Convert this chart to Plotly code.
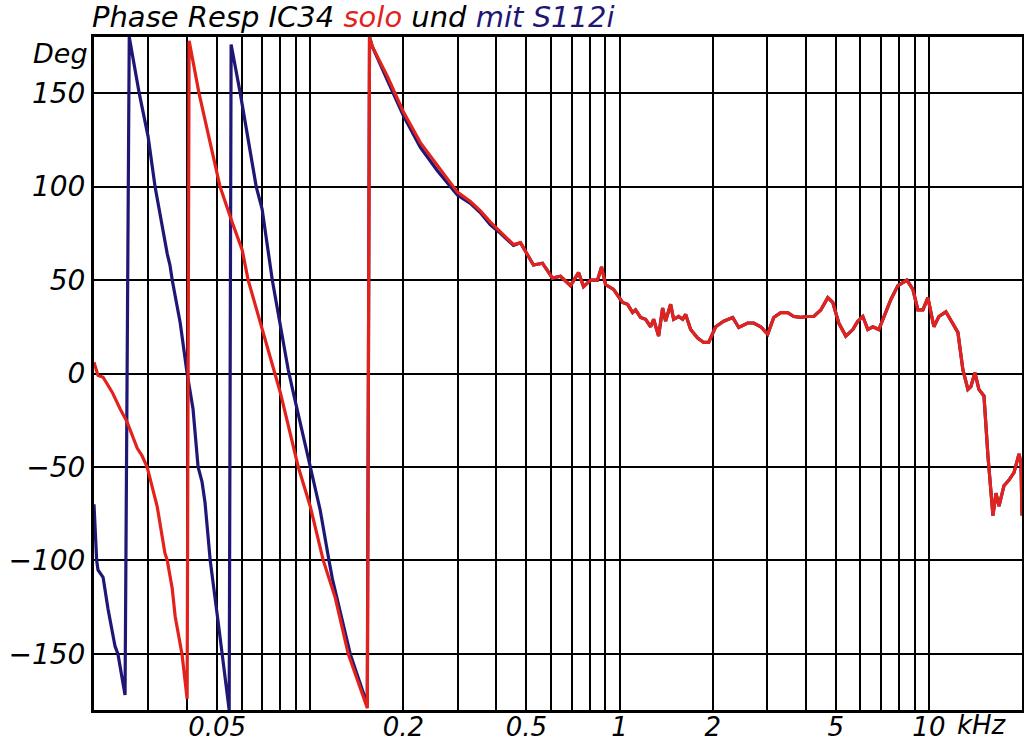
import plotly.graph_objects as go

# ---------------- data (frequency in kHz, phase in degrees) ----------------
red_freq = [0.0200, 0.0206, 0.0214, 0.0229, 0.0243, 0.0256, 0.0276, 0.0286, 0.0297, 0.0308,
            0.0320, 0.0339, 0.0345, 0.0358, 0.0366, 0.0385, 0.0400,
            0.0406, 0.0437, 0.0503, 0.0511, 0.0559, 0.0603, 0.0630, 0.0699, 0.0771, 0.0800,
            0.0915, 0.1000, 0.1102, 0.1205, 0.1327, 0.1530,
            0.1555, 0.1587, 0.1775, 0.200, 0.227, 0.2577, 0.2991, 0.3295, 0.355, 0.3824,
            0.4121, 0.454, 0.4783, 0.5269, 0.5634, 0.6071, 0.6444, 0.6942, 0.7369, 0.7649,
            0.8058, 0.849, 0.8746, 0.901, 0.9564, 1.0228, 1.0616, 1.102, 1.127, 1.1696,
            1.214, 1.260, 1.2886, 1.3376, 1.378, 1.409, 1.4626, 1.4956, 1.5524, 1.5994,
            1.6356, 1.6976, 1.7886, 1.8704, 1.9414, 2.045, 2.171, 2.3216, 2.4278, 2.596,
            2.715, 2.860, 3.013, 3.151, 3.320, 3.497, 3.657, 3.853, 4.060, 4.246, 4.472,
            4.712, 4.890, 5.114, 5.388, 5.676, 5.892, 6.116, 6.348, 6.588, 6.890, 7.152,
            7.536, 7.940, 8.490, 8.878, 9.214, 9.564, 9.926, 10.38, 10.77, 11.35, 11.96,
            12.41, 12.88, 13.37, 13.67, 14.09, 14.51, 15.07, 15.52, 16.11, 16.48, 16.85,
            17.49, 18.15, 18.84, 19.56, 19.85, 20.0]
red_phase = [6, -1, -2, -10, -19, -26, -40, -44, -50, -61,
             -71, -96, -100, -115, -130, -150, -174,
             178, 150, 105, 100, 81, 66, 50, 23.5, 0, -10,
             -50, -71, -100, -120, -150, -179,
             180, 175, 159, 140, 123.5, 111, 97, 92, 87, 81,
             76, 69, 70, 58, 59, 51, 52, 47, 54, 46.5,
             50, 50, 57, 47.6, 45, 38, 37, 32.6, 34, 30,
             29, 25, 29, 20, 35, 28, 37, 29, 30.5, 29,
             31.6, 23.5, 19, 16.6, 16.6, 25, 28, 30, 24.6, 27,
             27, 25, 21, 30, 32.6, 32.6, 30.5, 30, 30.5, 30.5, 34,
             40.6, 38, 27, 20, 23.5, 28, 30.5, 23.5, 25, 23.5, 30.5,
             39.6, 47, 50, 45, 34, 34, 40.6, 25, 30.5, 33, 27,
             22, 2, -8.5, -7, 0.5, -8.5, -12, -44, -76, -64, -71,
             -60, -57, -53, -43, -48, -76]

blue_own_freq = [0.0200, 0.0204, 0.0206, 0.0214, 0.0222, 0.0234, 0.0239, 0.0252,
                 0.0260, 0.0265, 0.0280, 0.0299, 0.0315, 0.0345, 0.0352, 0.0358, 0.0380,
                 0.0400, 0.0418, 0.0434, 0.0447, 0.0457, 0.0475, 0.0504, 0.0519, 0.0531, 0.0547,
                 0.0555, 0.0594, 0.0669, 0.0699, 0.0754, 0.0800, 0.0849, 0.0881, 0.1000,
                 0.1077, 0.1150, 0.1180, 0.1347, 0.1529,
                 0.1555, 0.1587, 0.1775, 0.200, 0.227, 0.2577, 0.2991, 0.3295, 0.355,
                 0.3824, 0.4121, 0.454, 0.4783]
blue_own_phase = [-70, -100, -105, -109, -126, -146, -150, -172,
                  180, 172, 150, 127, 100, 64, 58, 50, 27,
                  0, -19, -50, -58, -69, -100, -133, -150, -160, -180,
                  176, 150, 100, 88, 50, 27, 2, -10, -50,
                  -73, -100, -110, -150, -177,
                  180, 175, 157, 138, 121, 108.5, 95.5, 91, 86,
                  79.5, 75, 68.5, 70]
# above ~0.5 kHz the S112i curve lies under the solo curve
shared_start = red_freq.index(0.5269)
blue_freq = blue_own_freq + red_freq[shared_start:]
blue_phase = blue_own_phase + red_phase[shared_start:]

grid_freqs = [0.02, 0.03, 0.04, 0.05, 0.06, 0.07, 0.08, 0.09,
              0.1, 0.2, 0.3, 0.4, 0.5, 0.6, 0.7, 0.8, 0.9,
              1, 2, 3, 4, 5, 6, 7, 8, 9, 10, 20]
x_labels = {0.05: "0.05", 0.2: "0.2", 0.5: "0.5", 1: "1", 2: "2", 5: "5", 10: "10"}
y_ticks = [-150, -100, -50, 0, 50, 100, 150]
y_labels = ["\u2212150", "\u2212100", "\u221250", "0", "50", "100", "150"]

RED = "#e3221c"
BLUE = "#1f1775"
FONT = "DejaVu Sans"

fig = go.Figure()
fig.add_trace(go.Scatter(x=blue_freq, y=blue_phase, mode="lines",
                         line=dict(color=BLUE, width=3.2), name="mit S112i"))
fig.add_trace(go.Scatter(x=red_freq, y=red_phase, mode="lines",
                         line=dict(color=RED, width=3.2), name="solo"))

L, R, T, B = 94, 2, 37, 34
W, H = 1024, 744
pw, ph = W - L - R, H - T - B

fig.update_layout(
    width=W, height=H,
    margin=dict(l=L, r=R, t=T, b=B, autoexpand=False),
    paper_bgcolor="white", plot_bgcolor="white",
    showlegend=False,
    font=dict(family=FONT, size=27, color="black", style="italic"),
)
fig.update_xaxes(
    type="log", range=[-1.69897, 1.30103],
    tickvals=grid_freqs,
    ticktext=[x_labels.get(v, "") for v in grid_freqs],
    showgrid=True, gridcolor="black", gridwidth=2,
    showline=True, linecolor="black", linewidth=3, mirror=True,
    ticks="", zeroline=False, automargin=False,
    ticklabelstandoff=-8,
    tickfont=dict(family=FONT, size=26, style="italic"),
)
fig.update_yaxes(
    range=[-180, 180],
    tickvals=y_ticks, ticktext=y_labels,
    showgrid=True, gridcolor="black", gridwidth=2,
    showline=True, linecolor="black", linewidth=3, mirror=True,
    ticks="", zeroline=False, automargin=False,
    tickfont=dict(family=FONT, size=28, style="italic"),
)

title_html = ("Phase Resp IC34 <span style='color:%s'>solo</span> und "
              "<span style='color:%s'>mit S112i</span>" % (RED, BLUE))
fig.add_annotation(text=title_html, xref="paper", yref="paper",
                   x=(90 - L) / pw, y=(H - B - 17) / ph, xanchor="left", yanchor="middle",
                   showarrow=False, font=dict(family=FONT, size=29, style="italic", color="black"))
fig.add_annotation(text="Deg", xref="paper", yref="paper",
                   x=(90 - L) / pw, y=(H - B - 53) / ph, xanchor="right", yanchor="middle",
                   showarrow=False, font=dict(family=FONT, size=27, style="italic", color="black"))
fig.add_annotation(text="kHz", xref="paper", yref="paper",
                   x=(955 - L) / pw, y=-(725 - (H - B)) / ph, xanchor="left", yanchor="middle",
                   showarrow=False, font=dict(family=FONT, size=26, style="italic", color="black"))

fig.write_html("out.html", config={"displayModeBar": False},
               post_script="document.body.style.margin='0';document.body.style.overflow='hidden';")
